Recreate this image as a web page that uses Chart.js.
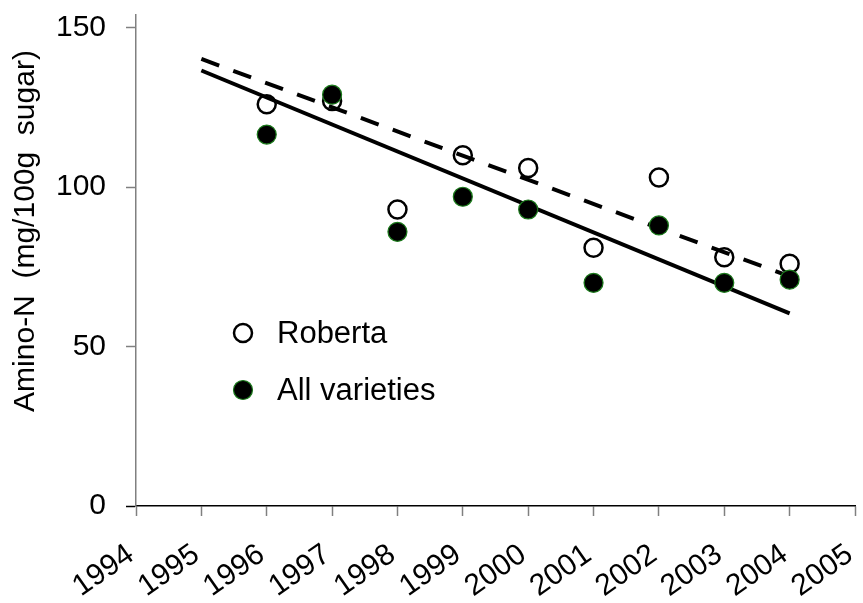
<!DOCTYPE html>
<html>
<head>
<meta charset="utf-8">
<script src="https://cdn.jsdelivr.net/npm/chart.js@4/dist/chart.umd.min.js"></script>
<style>
  html, body { margin: 0; padding: 0; background: #fff; }
  #wrap { width: 863px; height: 603px; }
</style>
</head>
<body>
<div id="wrap"><canvas id="canvas" width="863" height="603"></canvas></div>
<script>
const years = [1996, 1997, 1998, 1999, 2000, 2001, 2002, 2003, 2004];
const roberta = [126, 127, 93, 110, 106, 81, 103, 78, 76];
const allVarieties = [116.5, 129, 86, 97, 93, 70, 88, 70, 71];

// trend lines, start and end year with fitted values
const trendYears = [1995, 2004];
const robertaTrend = [140.2, 72];
const allTrend = [136.6, 60.4];

const yTicks = [0, 50, 100, 150];
const yTitle = "Amino-N  (mg/100g  sugar)";

const FONT = "'Liberation Sans', Arial, sans-serif";

const toPoints = (xs, ys) => xs.map((x, i) => ({ x: x, y: ys[i] }));

// draws the y axis title and the in-plot legend
const extras = {
  id: "extras",
  afterDraw(chart) {
    const ctx = chart.ctx;
    ctx.save();
    ctx.fillStyle = "#000";
    ctx.font = "30px " + FONT;
    ctx.textAlign = "center";
    ctx.textBaseline = "middle";
    ctx.translate(26, 231);
    ctx.rotate(-Math.PI / 2);
    ctx.fillText(yTitle, 0, 0);
    ctx.restore();

    const items = chart.data.datasets.filter((d) => d.type === "scatter");
    items.forEach((d, i) => {
      const cx = 243, cy = 333 + i * 57;
      ctx.save();
      ctx.beginPath();
      ctx.arc(cx, cy, d.pointRadius, 0, Math.PI * 2);
      ctx.fillStyle = d.backgroundColor;
      ctx.fill();
      ctx.lineWidth = d.borderWidth;
      ctx.strokeStyle = d.borderColor;
      ctx.stroke();
      ctx.fillStyle = "#000";
      ctx.font = "31px " + FONT;
      ctx.textAlign = "left";
      ctx.textBaseline = "middle";
      ctx.fillText(d.label, 277, cy + 1);
      ctx.restore();
    });
  },
};

new Chart(document.getElementById("canvas").getContext("2d"), {
  data: {
    datasets: [
      {
        type: "scatter",
        label: "Roberta",
        data: toPoints(years, roberta),
        pointRadius: 9,
        pointHoverRadius: 9,
        backgroundColor: "#fff",
        borderColor: "#000",
        borderWidth: 2.5,
        order: 4,
      },
      {
        type: "scatter",
        label: "All varieties",
        data: toPoints(years, allVarieties),
        pointRadius: 9.5,
        pointHoverRadius: 9.5,
        backgroundColor: "#000",
        borderColor: "#1b7a1b",
        borderWidth: 1.2,
        order: 1,
      },
      {
        type: "line",
        label: "Roberta trend",
        data: toPoints(trendYears, robertaTrend),
        borderColor: "#000",
        borderWidth: 4,
        borderDash: [19, 15],
        pointRadius: 0,
        order: 2,
      },
      {
        type: "line",
        label: "All varieties trend",
        data: toPoints(trendYears, allTrend),
        borderColor: "#000",
        borderWidth: 4,
        pointRadius: 0,
        order: 3,
      },
    ],
  },
  options: {
    responsive: false,
    animation: false,
    layout: {
      autoPadding: false,
      padding: { left: 0, top: 15, right: 8, bottom: 0 },
    },
    plugins: {
      legend: { display: false },
      tooltip: { enabled: false },
    },
    scales: {
      x: {
        type: "linear",
        min: 1994,
        max: 2005,
        border: { display: true, color: "#000", width: 1.5 },
        grid: {
          drawOnChartArea: false,
          drawTicks: true,
          tickLength: 10,
          tickColor: "#808080",
          tickWidth: 1.5,
        },
        ticks: {
          stepSize: 1,
          autoSkip: false,
          minRotation: 35,
          maxRotation: 35,
          padding: 21,
          labelOffset: -5,
          color: "#000",
          font: { family: FONT, size: 30 },
          callback: (v) => String(v),
        },
        afterFit(scale) {
          scale.height = 97;
          scale.paddingLeft = 0;
          scale.paddingRight = 0;
        },
      },
      y: {
        type: "linear",
        min: 0,
        max: 154,
        border: { display: true, color: "#808080", width: 1.5 },
        grid: {
          drawOnChartArea: false,
          drawTicks: true,
          tickLength: 10,
          tickColor: (c) => (c.tick && c.tick.value === 0 ? "#000" : "#808080"),
          tickWidth: 1.5,
        },
        afterBuildTicks(scale) {
          scale.ticks = yTicks.map((v) => ({ value: v }));
        },
        ticks: {
          padding: 20,
          color: "#000",
          font: { family: FONT, size: 30 },
        },
        afterFit(scale) {
          scale.width = 136;
          scale.paddingTop = 0;
          scale.paddingBottom = 0;
        },
      },
    },
  },
  plugins: [extras],
});
</script>
</body>
</html>
